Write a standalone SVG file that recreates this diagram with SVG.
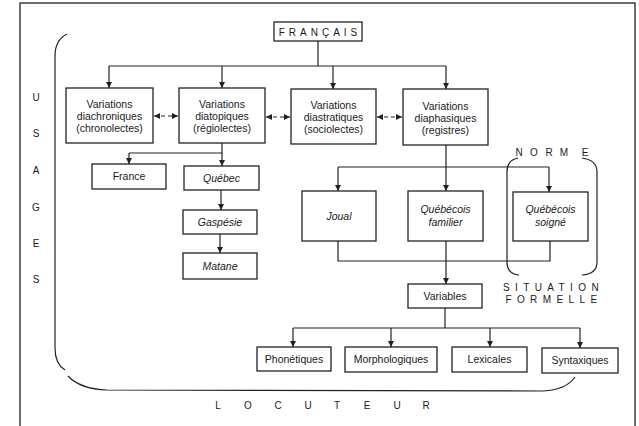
<svg xmlns="http://www.w3.org/2000/svg" width="639" height="426" viewBox="0 0 639 426">
<defs>
<marker id="arr" viewBox="0 0 8 8" refX="8" refY="4" markerWidth="6" markerHeight="6" markerUnits="userSpaceOnUse" orient="auto-start-reverse">
<path d="M0,0 L8,4 L0,8 z" fill="#222"/>
</marker>
<style>
.box{fill:#fff;stroke:#222;stroke-width:1.3}
.ln{fill:none;stroke:#222;stroke-width:1.2}
.dash{fill:none;stroke:#222;stroke-width:1.2;stroke-dasharray:4 3}
text{font-family:"Liberation Sans",Arial,sans-serif;fill:#1a1a1a;text-anchor:middle}
.t{font-size:10.5px}
.i{font-size:10.5px;font-style:italic}
.sp{font-size:10px;letter-spacing:4px}
.lt{font-size:10px}
</style>
</defs>
<rect width="639" height="426" fill="#fff"/>
<rect x="20" y="3" width="615" height="440" fill="none" stroke="#222" stroke-width="1.3"/>

<g id="connectors">
<path class="ln" d="M318,41 L318,66 M109,66 L446,66"/>
<line class="ln" x1="109" y1="66" x2="109" y2="88" marker-end="url(#arr)"/>
<line class="ln" x1="222" y1="66" x2="222" y2="88" marker-end="url(#arr)"/>
<line class="ln" x1="333" y1="66" x2="333" y2="89" marker-end="url(#arr)"/>
<line class="ln" x1="446" y1="66" x2="446" y2="89" marker-end="url(#arr)"/>
<line class="dash" x1="154" y1="116" x2="178" y2="116" marker-start="url(#arr)" marker-end="url(#arr)"/>
<line class="dash" x1="266" y1="117" x2="290" y2="117" marker-start="url(#arr)" marker-end="url(#arr)"/>
<line class="dash" x1="377" y1="117" x2="402" y2="117" marker-start="url(#arr)" marker-end="url(#arr)"/>
<path class="ln" d="M222,143 L222,153 L129,153"/>
<line class="ln" x1="129" y1="153" x2="129" y2="164" marker-end="url(#arr)"/>
<line class="ln" x1="222" y1="153" x2="222" y2="166" marker-end="url(#arr)"/>
<line class="ln" x1="221" y1="190" x2="221" y2="210" marker-end="url(#arr)"/>
<line class="ln" x1="220" y1="234" x2="220" y2="253" marker-end="url(#arr)"/>
<line class="ln" x1="446" y1="145" x2="446" y2="191" marker-end="url(#arr)"/>
<path class="ln" d="M338,167 L549,167"/>
<line class="ln" x1="338" y1="167" x2="338" y2="191" marker-end="url(#arr)"/>
<line class="ln" x1="549" y1="167" x2="549" y2="192" marker-end="url(#arr)"/>
<path class="ln" d="M338,241 L338,261 L550,261 L550,241"/>
<line class="ln" x1="446" y1="241" x2="446" y2="284" marker-end="url(#arr)"/>
<path class="ln" d="M445,308 L445,328 M293,328 L580,328"/>
<line class="ln" x1="293" y1="328" x2="293" y2="347" marker-end="url(#arr)"/>
<line class="ln" x1="391" y1="328" x2="391" y2="347" marker-end="url(#arr)"/>
<line class="ln" x1="490" y1="328" x2="490" y2="347" marker-end="url(#arr)"/>
<line class="ln" x1="580" y1="328" x2="580" y2="348" marker-end="url(#arr)"/>
</g>

<g id="brackets">
<path class="ln" d="M67,34 Q55,40 55,56 L55,348 Q55,364 65,370"/>
<path class="ln" d="M68,376 Q80,389 107,390 L543,391 Q566,390 575,377"/>
<path class="ln" d="M518,158 Q507,160 507,172 L507,262 Q507,274 519,275"/>
<path class="ln" d="M582,158 Q597,160 597,172 L597,262 Q597,274 582,275"/>
</g>

<g id="francais"><rect class="box" x="274" y="22" width="88" height="19"/><text class="sp" x="320" y="35.5">FRANÇAIS</text></g>

<g id="diachroniques"><rect class="box" x="66" y="88" width="87" height="55"/>
<text class="t" x="109.5" y="108">Variations</text><text class="t" x="109.5" y="120">diachroniques</text><text class="t" x="109.5" y="132">(chronolectes)</text></g>
<g id="diatopiques"><rect class="box" x="179" y="88" width="86" height="55"/>
<text class="t" x="222" y="108">Variations</text><text class="t" x="222" y="120">diatopiques</text><text class="t" x="222" y="132">(régiolectes)</text></g>
<g id="diastratiques"><rect class="box" x="291" y="89" width="85" height="55"/>
<text class="t" x="333.5" y="109">Variations</text><text class="t" x="333.5" y="121">diastratiques</text><text class="t" x="333.5" y="133">(sociolectes)</text></g>
<g id="diaphasiques"><rect class="box" x="403" y="89" width="85" height="56"/>
<text class="t" x="445.5" y="110">Variations</text><text class="t" x="445.5" y="122">diaphasiques</text><text class="t" x="445.5" y="134">(registres)</text></g>

<g id="france"><rect class="box" x="92" y="164" width="74" height="25"/><text class="t" x="129" y="180">France</text></g>
<g id="quebec"><rect class="box" x="184" y="166" width="75" height="24"/><text class="i" x="221.5" y="181.5">Québec</text></g>
<g id="gaspesie"><rect class="box" x="183" y="210" width="74" height="24"/><text class="i" x="220" y="225.5">Gaspésie</text></g>
<g id="matane"><rect class="box" x="183" y="253" width="74" height="26"/><text class="i" x="220" y="270">Matane</text></g>

<g id="joual"><rect class="box" x="302" y="191" width="74" height="50"/><text class="i" x="339" y="220">Joual</text></g>
<g id="familier"><rect class="box" x="408" y="191" width="75" height="50"/><text class="i" x="445.5" y="213">Québécois</text><text class="i" x="445.5" y="226">familier</text></g>
<g id="soigne"><rect class="box" x="513" y="192" width="75" height="49"/><text class="i" x="550.5" y="213">Québécois</text><text class="i" x="550.5" y="226">soigné</text></g>

<g id="variables"><rect class="box" x="408" y="284" width="74" height="24"/><text class="t" x="445" y="299.5">Variables</text></g>
<g id="phonetiques"><rect class="box" x="257" y="347" width="74" height="24"/><text class="t" x="294" y="362.5">Phonétiques</text></g>
<g id="morphologiques"><rect class="box" x="345" y="347" width="92" height="25"/><text class="t" x="391" y="363">Morphologiques</text></g>
<g id="lexicales"><rect class="box" x="452" y="347" width="75" height="25"/><text class="t" x="489.5" y="363">Lexicales</text></g>
<g id="syntaxiques"><rect class="box" x="542" y="348" width="76" height="25"/><text class="t" x="580" y="364">Syntaxiques</text></g>

<g id="usages">
<text class="lt" x="36" y="101">U</text><text class="lt" x="36" y="137">S</text><text class="lt" x="36" y="174">A</text><text class="lt" x="36" y="211">G</text><text class="lt" x="36" y="247">E</text><text class="lt" x="36" y="283">S</text>
</g>
<g id="locuteur">
<text class="lt" x="218" y="409">L</text><text class="lt" x="248" y="409">O</text><text class="lt" x="278" y="409">C</text><text class="lt" x="308" y="409">U</text><text class="lt" x="337" y="409">T</text><text class="lt" x="367" y="409">E</text><text class="lt" x="397" y="409">U</text><text class="lt" x="426" y="409">R</text>
</g>
<g id="norme">
<text class="lt" x="519" y="156">N</text><text class="lt" x="534" y="156">O</text><text class="lt" x="549" y="156">R</text><text class="lt" x="564" y="156">M</text><text class="lt" x="585" y="156">E</text>
</g>
<g id="situation">
<text class="lt" x="553.5" y="291" style="letter-spacing:5.4px">SITUATION</text>
<text class="lt" x="554" y="303" style="letter-spacing:5.4px">FORMELLE</text>
</g>
</svg>
